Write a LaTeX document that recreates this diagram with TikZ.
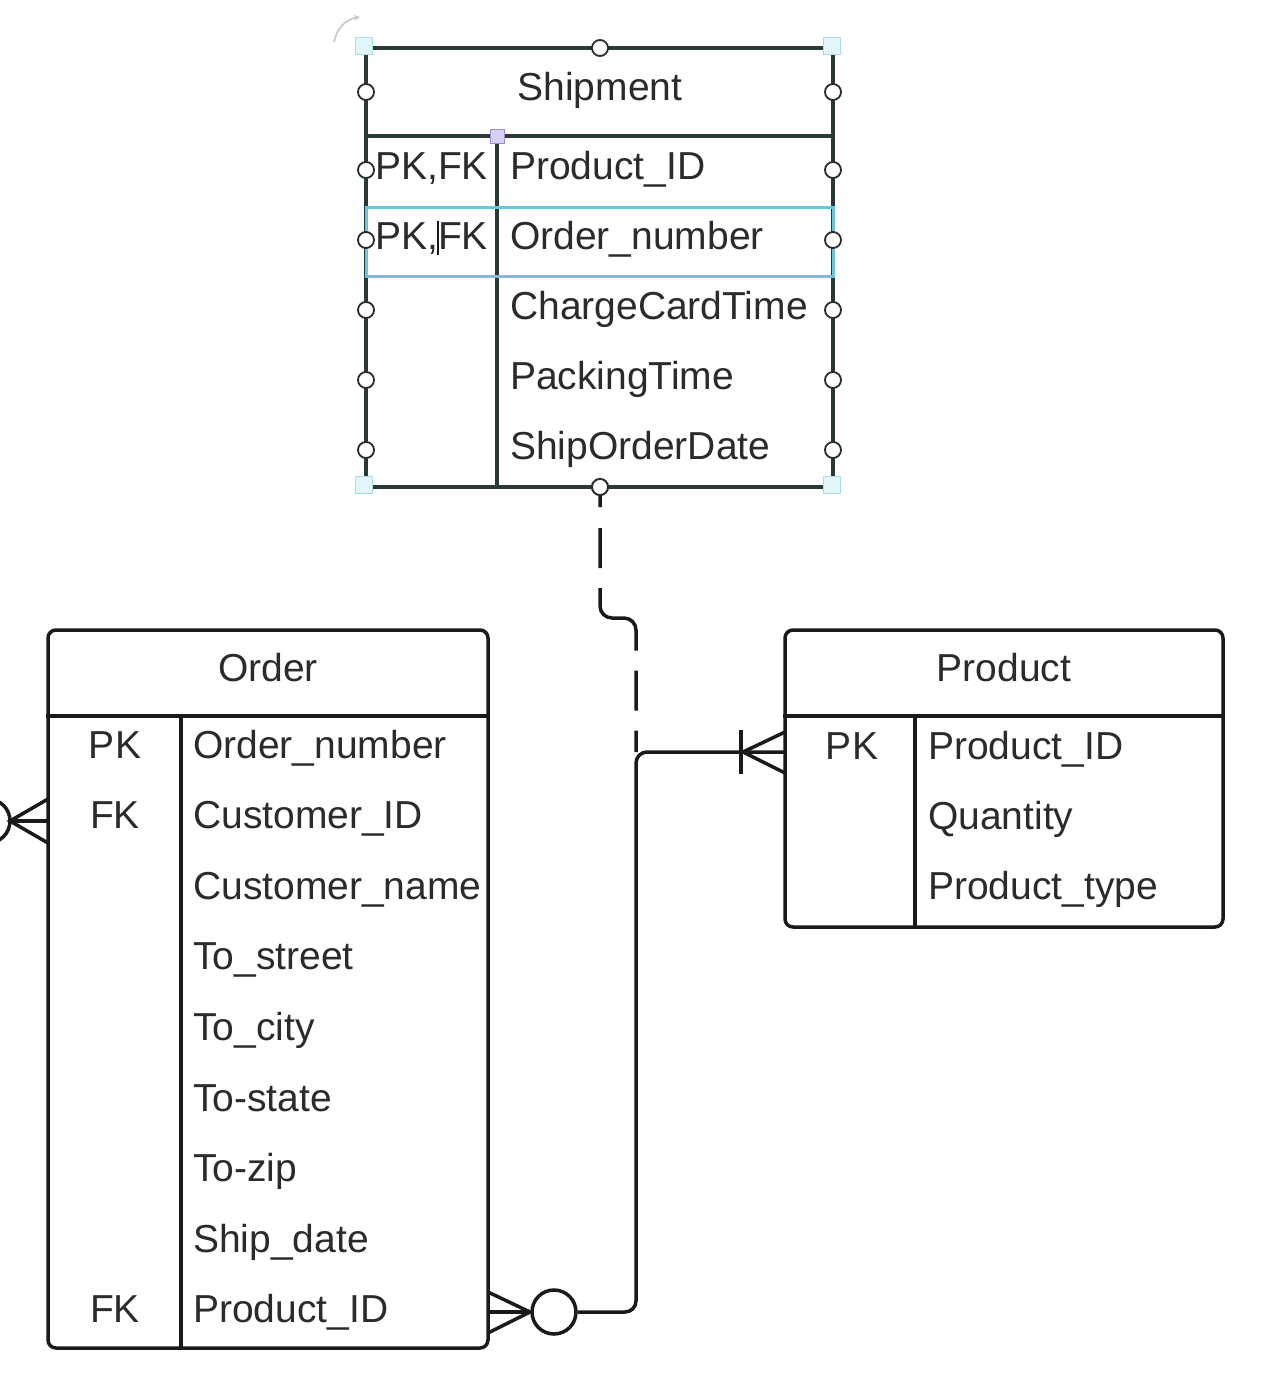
\documentclass[tikz,border=0pt]{standalone}
\usepackage{fontspec}
\setmainfont{Liberation Sans}
\usetikzlibrary{arrows.meta}
\definecolor{txt}{HTML}{2B2B2B}
\definecolor{ln}{HTML}{1A1A1A}
\definecolor{shipln}{HTML}{2A3838}
\definecolor{selcyan}{HTML}{6CC6DA}
\definecolor{cornerfill}{HTML}{E2F6FA}
\definecolor{cornerdraw}{HTML}{A6DEEA}
\definecolor{lavfill}{HTML}{D6D0F2}
\definecolor{lavdraw}{HTML}{9A8CD6}
\tikzset{
  tablebox/.style={draw=ln, line width=3.5pt, rounded corners=8pt, inner sep=0pt, fill=white},
  shipbox/.style={draw=shipln, line width=4pt, inner sep=0pt, fill=white},
  tline/.style={draw=ln, line width=3.5pt},
  sline/.style={draw=shipln, line width=4pt},
  ttl/.style={font=\fontsize{39}{47}\selectfont, text=txt, inner sep=0pt, anchor=base},
  fld/.style={font=\fontsize{39}{47}\selectfont, text=txt, inner sep=0pt, anchor=base west},
  key/.style={font=\fontsize{39}{47}\selectfont, text=txt, inner sep=0pt, anchor=base},
  conn/.style={draw=ln, line width=3.5pt},
  handle/.style={circle, draw=txt, fill=white, line width=1.8pt, minimum size=16pt, inner sep=0pt},
  cornerh/.style={rectangle, draw=cornerdraw, fill=cornerfill, line width=1pt, minimum size=17pt, inner sep=0pt},
  lavh/.style={rectangle, draw=lavdraw, fill=lavfill, line width=1pt, minimum size=14pt, inner sep=0pt},
}
\begin{document}
\begin{tikzpicture}[x=1pt,y=-1pt]
\useasboundingbox (0,0) rectangle (1282,1382);
\fill[white] (0,0) rectangle (1282,1382);

% ---------------- Shipment ----------------
\node[shipbox, minimum width=467pt, minimum height=439pt] (ship) at (599.5,267.5) {};
\draw[sline] (ship.west |- 0,136) -- (ship.east |- 0,136);
\draw[sline] (497,136) -- (497,487);
% selected row highlight
\draw[selcyan, line width=3pt] (366,207) rectangle (833,276);
\node[ttl] (shipT) at (600,100) {Shipment};
\node[key] (sk1) at (431.5,179) {PK,FK};
\node[key] (sk2) at (431.5,249) {PK,FK};
\draw[ln, line width=2.5pt] (438,221) -- (438,255);
\node[fld] (sf1) at (510,179) {Product\_ID};
\node[fld] (sf2) at (510,249) {Order\_number};
\node[fld] (sf3) at (510,319) {ChargeCardTime};
\node[fld] (sf4) at (510,389) {PackingTime};
\node[fld] (sf5) at (510,459) {ShipOrderDate};
% selection handles
\foreach \yy [count=\i] in {92,170,240,310,380,450}{
  \node[handle] (hl\i) at (366,\yy) {};
  \node[handle] (hr\i) at (833,\yy) {};
}
\node[handle] (htop) at (600,48) {};
\node[handle] (hbot) at (600,487) {};
\node[cornerh] (c1) at (364,46) {};
\node[cornerh] (c2) at (832,46) {};
\node[cornerh] (c3) at (364,485) {};
\node[cornerh] (c4) at (832,485) {};
\node[lavh] (lav) at (497,136) {};
% rotate indicator
\draw[black!20, line width=1.8pt, -{Stealth[length=6pt,width=6pt]}] (334,42) to[bend left=35] (360,17);

% ---------------- Order ----------------
\node[tablebox, minimum width=440pt, minimum height=718pt] (order) at (268,989) {};
\draw[tline] (order.west |- 0,716) -- (order.east |- 0,716);
\draw[tline] (181,716) -- (181,1348);
\node[ttl] (orderT) at (268,681) {Order};
\node[key] (ok1) at (115,758) {PK};
\node[key] (ok2) at (115,828.6) {FK};
\node[key] (ok9) at (115,1322.8) {FK};
\node[fld] (of1) at (193,758) {Order\_number};
\node[fld] (of2) at (193,828.6) {Customer\_ID};
\node[fld] (of3) at (193,899.2) {Customer\_name};
\node[fld] (of4) at (193,969.8) {To\_street};
\node[fld] (of5) at (193,1040.4) {To\_city};
\node[fld] (of6) at (193,1111) {To-state};
\node[fld] (of7) at (193,1181.6) {To-zip};
\node[fld] (of8) at (193,1252.2) {Ship\_date};
\node[fld] (of9) at (193,1322.8) {Product\_ID};

% ---------------- Product ----------------
\node[tablebox, minimum width=438pt, minimum height=297pt] (product) at (1004,778.5) {};
\draw[tline] (product.west |- 0,716) -- (product.east |- 0,716);
\draw[tline] (915,716) -- (915,927);
\node[ttl] (productT) at (1004,681) {Product};
\node[key] (pk1) at (852,759) {PK};
\node[fld] (pf1) at (928,759) {Product\_ID};
\node[fld] (pf2) at (928,829) {Quantity};
\node[fld] (pf3) at (928,899) {Product\_type};

% ---------------- Connectors ----------------
% left crow's foot (to off-page entity)
\coordinate (lconv) at (10,821);
\draw[conn] (48,799) -- (lconv) -- (48,843);
\draw[conn] (48,821) -- (lconv);
\node[circle, draw=ln, line width=3.5pt, minimum size=44pt, inner sep=0pt] (lcirc) at (-12,821) {};
\draw[conn] (lcirc.west) -- (-60,821);

% Order.Product_ID  ->  Product
\coordinate (bconv) at (530,1312);
\draw[conn] (488,1292) -- (bconv) -- (488,1333);
\draw[conn] (488,1312) -- (bconv);
\node[circle, draw=ln, line width=3.5pt, minimum size=44pt, inner sep=0pt] (bcirc) at (554,1312) {};
\coordinate (joint) at (636,752);
\coordinate (pend) at (785,752);
\draw[conn, rounded corners=11pt] (bcirc.east) -- (636,1312) -- (joint) -- (pend);
\coordinate (pconv) at (743,752);
\draw[conn] (785,732) -- (pconv) -- (785,773);
\draw[conn] (741,730) -- (741,774);

% dashed identifying link from Shipment
\draw[conn, rounded corners=12pt, dash pattern=on 20pt off 21pt on 40pt off 20pt on 88pt off 20pt on 40pt off 20pt on 40pt off 20pt]
  (hbot.center) -- (600,618) -- (636,618) -- (joint);
\node[handle] at (hbot) {};
\end{tikzpicture}
\end{document}
